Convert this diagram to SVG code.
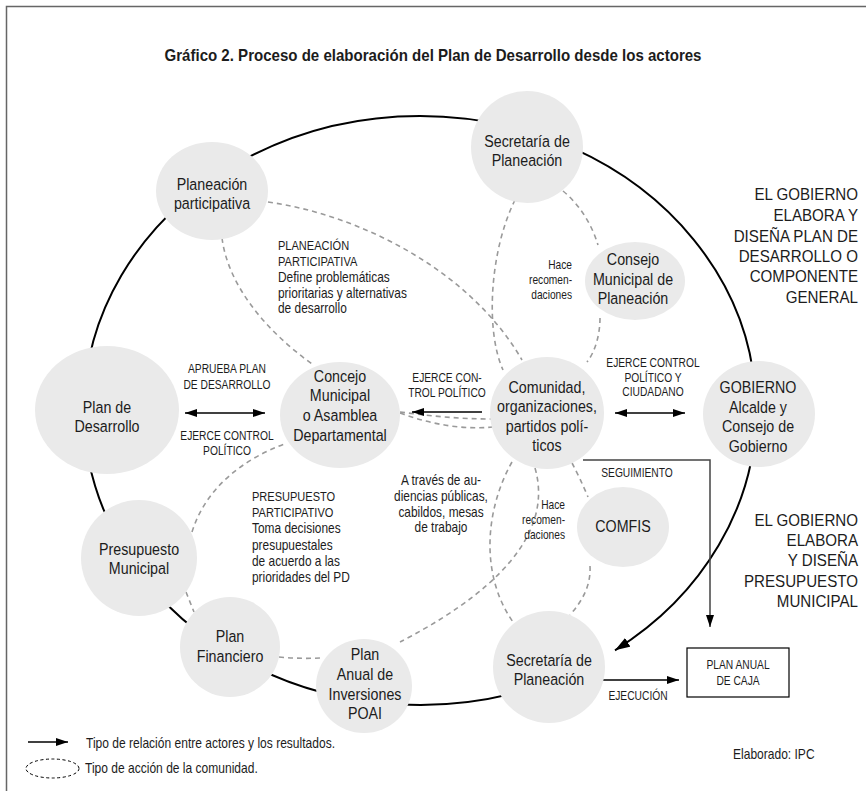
<svg xmlns="http://www.w3.org/2000/svg" width="866" height="791" viewBox="0 0 866 791">
  <defs>
    <marker id="ah" viewBox="0 0 12 8" refX="12" refY="4" markerWidth="12" markerHeight="8" markerUnits="userSpaceOnUse" orient="auto-start-reverse">
      <path d="M0,0 L12,4 L0,8 z" fill="#000"/>
    </marker>
    <marker id="ahBig" viewBox="0 0 15 10" refX="15" refY="5" markerWidth="15" markerHeight="10" markerUnits="userSpaceOnUse" orient="auto">
      <path d="M0,0 L15,5 L0,10 z" fill="#000"/>
    </marker>
    <style>
      .t { font-family: "Liberation Sans", Arial, sans-serif; fill: #1c1c1c; transform-box: fill-box; }
      .title { font-size: 17px; font-weight: bold; text-anchor: middle; }
      .node { fill: #eaeaea; }
      /* condensed lettering: each line is narrowed around its own anchor */
      .nt { font-size: 17px; text-anchor: middle; transform-origin: 50% 50%; transform: scaleX(0.84); }
      .big { font-size: 17px; text-anchor: end; transform-origin: 100% 50%; transform: scaleX(0.89); }
      .cap { font-size: 12.5px; text-anchor: middle; transform-origin: 50% 50%; transform: scaleX(0.82); }
      .blk { font-size: 14px; transform-origin: 0 50%; transform: scaleX(0.85); }
      .blkU { font-size: 13px; transform-origin: 0 50%; transform: scaleX(0.85); }
      .mid { font-size: 14px; text-anchor: middle; transform-origin: 50% 50%; transform: scaleX(0.85); }
      .small { font-size: 12px; text-anchor: end; transform-origin: 100% 50%; transform: scaleX(0.85); }
      .leg { font-size: 14px; transform-origin: 0 50%; transform: scaleX(0.86); }
      .ring { fill: none; stroke: #000; stroke-width: 2; }
      .arr { fill: none; stroke: #000; stroke-width: 1.5; }
      .dash { fill: none; stroke: #9a9a9a; stroke-width: 1.6; stroke-dasharray: 5 4; }
    </style>
  </defs>

  <rect width="866" height="791" fill="#fff"/>
  <!-- frame -->
  <path d="M6.5,791 V6.5 H866" fill="none" stroke="#666" stroke-width="1.5"/>

  <text class="t title" x="433" y="61" textLength="537" lengthAdjust="spacingAndGlyphs">Gráfico 2. Proceso de elaboración del Plan de Desarrollo desde los actores</text>

  <g id="connectors">
    <!-- main cycle, ending on the lower Secretaría de Planeación -->
    <path class="ring" d="M549,682.4 A336,294.5 0 0 1 84,410.5 A336,294.5 0 1 1 615,650.3" marker-end="url(#ahBig)"/>

    <!-- community action paths -->
    <path class="dash" d="M268,202 C360,215 470,270 522,360"/>
    <path class="dash" d="M222,238 C228,285 265,330 312,364"/>
    <path class="dash" d="M563,191 C580,205 592,225 598,245"/>
    <path class="dash" d="M600,318 C600,335 595,352 587,362"/>
    <path class="dash" d="M515,200 C490,250 485,330 503,370"/>
    <path class="dash" d="M400,412 C430,416 460,419 492,419"/>
    <path class="dash" d="M400,413 C430,424 462,430 492,427"/>
    <path class="dash" d="M512,462 C485,510 480,575 513,622"/>
    <path class="dash" d="M535,468 C550,520 520,580 400,642"/>
    <path class="dash" d="M572,463 Q580,478 588,497"/>
    <path class="dash" d="M590,566 C591,585 583,600 570,615"/>
    <path class="dash" d="M192,532 C205,490 240,460 287,443"/>
    <path class="dash" d="M186,592 L194,612"/>
    <path class="dash" d="M279,657 Q300,659 320,658"/>

    <!-- actor relations -->
    <line class="arr" x1="185" y1="413" x2="265" y2="413" marker-start="url(#ah)" marker-end="url(#ah)"/>
    <line class="arr" x1="482" y1="412" x2="412" y2="412" marker-end="url(#ah)"/>
    <line class="arr" x1="615" y1="413" x2="685" y2="413" marker-start="url(#ah)" marker-end="url(#ah)"/>
    <path d="M583,460 H710 V627" fill="none" stroke="#444" stroke-width="1.5" marker-end="url(#ah)"/>
    <line class="arr" x1="603" y1="680" x2="679" y2="680" marker-end="url(#ah)"/>
  </g>

  <!-- relation labels -->
  <g id="labels">
    <text class="t cap" x="227" y="373">APRUEBA PLAN</text>
    <text class="t cap" x="227" y="389">DE DESARROLLO</text>
    <text class="t cap" x="227" y="440">EJERCE CONTROL</text>
    <text class="t cap" x="227" y="455">POLÍTICO</text>

    <text class="t cap" x="447" y="382">EJERCE CON-</text>
    <text class="t cap" x="447" y="397">TROL POLÍTICO</text>

    <text class="t cap" x="653" y="367">EJERCE CONTROL</text>
    <text class="t cap" x="653" y="382">POLÍTICO Y</text>
    <text class="t cap" x="653" y="396">CIUDADANO</text>

    <text class="t cap" x="637" y="477">SEGUIMIENTO</text>
    <text class="t cap" x="638" y="700">EJECUCIÓN</text>

    <text class="t blkU" x="278" y="250">PLANEACIÓN</text>
    <text class="t blkU" x="278" y="266">PARTICIPATIVA</text>
    <text class="t blk" x="278" y="282">Define problemáticas</text>
    <text class="t blk" x="278" y="298">prioritarias y alternativas</text>
    <text class="t blk" x="278" y="313">de desarrollo</text>

    <text class="t blkU" x="252" y="501">PRESUPUESTO</text>
    <text class="t blkU" x="252" y="517">PARTICIPATIVO</text>
    <text class="t blk" x="252" y="533">Toma decisiones</text>
    <text class="t blk" x="252" y="550">presupuestales</text>
    <text class="t blk" x="252" y="566">de acuerdo a las</text>
    <text class="t blk" x="252" y="582">prioridades del PD</text>

    <text class="t mid" x="441" y="485">A través de au-</text>
    <text class="t mid" x="441" y="501">diencias públicas,</text>
    <text class="t mid" x="441" y="517">cabildos, mesas</text>
    <text class="t mid" x="441" y="532">de trabajo</text>

    <text class="t small" x="572" y="269">Hace</text>
    <text class="t small" x="572" y="284">recomen-</text>
    <text class="t small" x="572" y="299">daciones</text>

    <text class="t small" x="565" y="509">Hace</text>
    <text class="t small" x="565" y="524">recomen-</text>
    <text class="t small" x="565" y="539">daciones</text>

    <text class="t big" x="858" y="200">EL GOBIERNO</text>
    <text class="t big" x="858" y="221">ELABORA Y</text>
    <text class="t big" x="858" y="242">DISEÑA PLAN DE</text>
    <text class="t big" x="858" y="262">DESARROLLO O</text>
    <text class="t big" x="858" y="282">COMPONENTE</text>
    <text class="t big" x="858" y="303">GENERAL</text>

    <text class="t big" x="858" y="526">EL GOBIERNO</text>
    <text class="t big" x="858" y="546">ELABORA</text>
    <text class="t big" x="858" y="566">Y DISEÑA</text>
    <text class="t big" x="858" y="587">PRESUPUESTO</text>
    <text class="t big" x="858" y="607">MUNICIPAL</text>
  </g>

  <!-- actors -->
  <g id="sec-planeacion-top">
    <ellipse class="node" cx="527" cy="147" rx="56" ry="56"/>
    <text class="t nt" x="527" y="147">Secretaría de</text>
    <text class="t nt" x="527" y="166">Planeación</text>
  </g>
  <g id="planeacion-participativa">
    <ellipse class="node" cx="212" cy="191" rx="56" ry="49"/>
    <text class="t nt" x="212" y="190">Planeación</text>
    <text class="t nt" x="212" y="209">participativa</text>
  </g>
  <g id="consejo-municipal">
    <ellipse class="node" cx="635" cy="281" rx="50" ry="39"/>
    <text class="t nt" x="633" y="265">Consejo</text>
    <text class="t nt" x="633" y="285">Municipal de</text>
    <text class="t nt" x="633" y="304">Planeación</text>
  </g>
  <g id="plan-desarrollo">
    <ellipse class="node" cx="107" cy="410" rx="72" ry="64"/>
    <text class="t nt" x="107" y="413">Plan de</text>
    <text class="t nt" x="107" y="432">Desarrollo</text>
  </g>
  <g id="concejo">
    <ellipse class="node" cx="340" cy="415" rx="60" ry="53"/>
    <text class="t nt" x="340" y="382">Concejo</text>
    <text class="t nt" x="340" y="401">Municipal</text>
    <text class="t nt" x="340" y="421">o Asamblea</text>
    <text class="t nt" x="340" y="441">Departamental</text>
  </g>
  <g id="comunidad">
    <ellipse class="node" cx="547" cy="413" rx="57" ry="56"/>
    <text class="t nt" x="547" y="393">Comunidad,</text>
    <text class="t nt" x="547" y="412">organizaciones,</text>
    <text class="t nt" x="547" y="432">partidos polí-</text>
    <text class="t nt" x="547" y="451">ticos</text>
  </g>
  <g id="gobierno">
    <ellipse class="node" cx="759" cy="414" rx="56" ry="53"/>
    <text class="t nt" x="758" y="393">GOBIERNO</text>
    <text class="t nt" x="758" y="413">Alcalde y</text>
    <text class="t nt" x="758" y="432">Consejo de</text>
    <text class="t nt" x="758" y="452">Gobierno</text>
  </g>
  <g id="presupuesto-municipal">
    <ellipse class="node" cx="139" cy="558" rx="58" ry="58"/>
    <text class="t nt" x="139" y="555">Presupuesto</text>
    <text class="t nt" x="139" y="574">Municipal</text>
  </g>
  <g id="comfis">
    <ellipse class="node" cx="623" cy="527" rx="46" ry="40"/>
    <text class="t nt" x="623" y="532">COMFIS</text>
  </g>
  <g id="plan-financiero">
    <ellipse class="node" cx="230" cy="647" rx="50" ry="50"/>
    <text class="t nt" x="230" y="642">Plan</text>
    <text class="t nt" x="230" y="662">Financiero</text>
  </g>
  <g id="poai">
    <ellipse class="node" cx="364" cy="686" rx="48" ry="47"/>
    <text class="t nt" x="365" y="660">Plan</text>
    <text class="t nt" x="365" y="680">Anual de</text>
    <text class="t nt" x="365" y="700">Inversiones</text>
    <text class="t nt" x="365" y="719">POAI</text>
  </g>
  <g id="sec-planeacion-bottom">
    <ellipse class="node" cx="549" cy="667" rx="56" ry="56"/>
    <text class="t nt" x="549" y="666">Secretaría de</text>
    <text class="t nt" x="549" y="685">Planeación</text>
  </g>
  <g id="plan-anual-caja">
    <rect x="687" y="648" width="102" height="49" fill="#fff" stroke="#000" stroke-width="1.2"/>
    <text class="t cap" x="738" y="669">PLAN ANUAL</text>
    <text class="t cap" x="738" y="685">DE CAJA</text>
  </g>

  <!-- legend -->
  <g id="legend">
    <line class="arr" x1="28" y1="742" x2="68" y2="742" marker-end="url(#ah)"/>
    <text class="t leg" x="86" y="748">Tipo de relación entre actores y los resultados.</text>
    <ellipse cx="52.5" cy="768.5" rx="26.5" ry="9.5" fill="none" stroke="#000" stroke-width="1" stroke-dasharray="3 2.5"/>
    <text class="t leg" x="85" y="773">Tipo de acción de la comunidad.</text>
    <text class="t leg" x="733" y="759">Elaborado: IPC</text>
  </g>
</svg>
